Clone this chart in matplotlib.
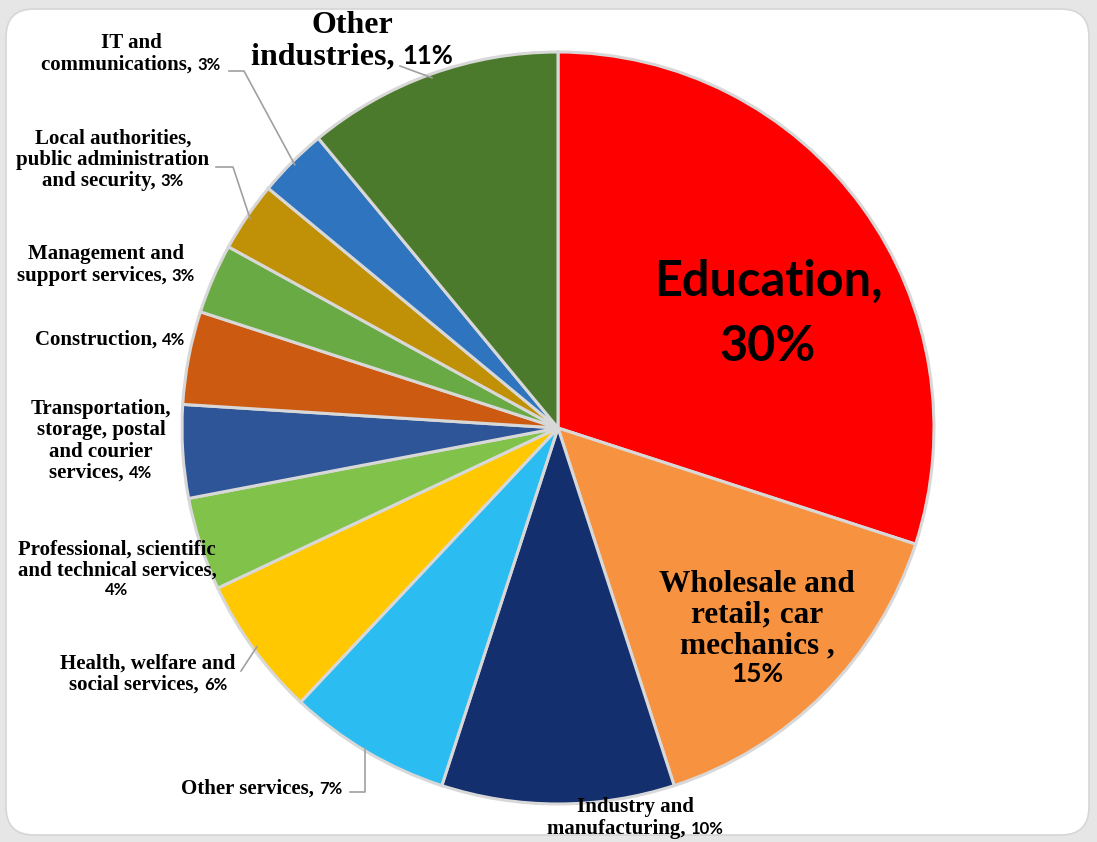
import matplotlib
matplotlib.use('Agg')
import matplotlib.pyplot as plt
import numpy as np
from matplotlib.offsetbox import TextArea, HPacker, VPacker, AnnotationBbox
from matplotlib.patches import FancyBboxPatch

# data
sectors = ['Education', 'Wholesale and retail; car mechanics', 'Industry and manufacturing',
           'Other services', 'Health, welfare and social services',
           'Professional, scientific and technical services',
           'Transportation, storage, postal and courier services', 'Construction',
           'Management and support services', 'Local authorities, public administration and security',
           'IT and communications', 'Other industries']
shares = [30, 15, 10, 7, 6, 4, 4, 4, 3, 3, 3, 11]
colors = ['#FF0000', '#F79240', '#142F6E', '#2BBDF2', '#FFC800', '#80C24A',
          '#2D5597', '#CC5A10', '#6AAA45', '#C09006', '#2F74BE', '#4B7A2C']

# how each label is broken into lines (the percentage is appended)
name_lines = [['Education,'], ['Wholesale and', 'retail; car', 'mechanics ,'],
              ['Industry and', 'manufacturing, '], ['Other services, '],
              ['Health, welfare and', 'social services, '],
              ['Professional, scientific', 'and technical services,'],
              ['Transportation,', 'storage, postal', 'and courier', 'services, '],
              ['Construction, '], ['Management and', 'support services, '],
              ['Local authorities,', 'public administration', 'and security, '],
              ['IT and', 'communications, '], ['Other', 'industries, ']]
pct_own_line = [True, True, False, False, False, True, False, False, False, False, False, False]

H = 842
# label centres in picture pixels (x, y from top) and font sizes (name, percent)
label_pos = [(768, 314), (757, 628), (635, 818), (262, 789), (148, 674), (117, 569),
             (101, 441), (110, 340), (106, 265), (113, 160), (131, 54), (352, 41)]
label_size = [(35, 35), (22.5, 19), (15, 12), (15, 12), (15, 12), (15, 12),
              (15, 12), (15, 12), (15, 12), (15, 12), (15, 12), (23, 18.5)]

fig = plt.figure(figsize=(10.97, 8.42), dpi=100)
fig.patch.set_facecolor('#E6E6E6')
ax = fig.add_axes([0, 0, 1, 1])

cx, cy, r = 558, H - 428, 376
wedges, _ = ax.pie(shares, colors=colors, startangle=90, counterclock=False,
                   center=(cx, cy), radius=r,
                   wedgeprops=dict(edgecolor='#D8D8D8', linewidth=2.2))

panel = FancyBboxPatch((6, 7), 1083, 826, boxstyle='round,pad=0,rounding_size=28',
                       fc='white', ec='#D6D6D6', lw=1.2, zorder=0)
ax.add_patch(panel)

ax.set_xlim(0, 1097)
ax.set_ylim(0, H)
ax.set_aspect('equal')
ax.axis('off')


def part(text, size, family):
    return TextArea(text, textprops=dict(fontsize=size, fontweight='bold',
                                         fontfamily=family, color='black'))


for i, lines in enumerate(name_lines):
    ns, ps = label_size[i]
    name_font = 'Lato' if i == 0 else 'Liberation Serif'
    pct = '%d%%' % shares[i]
    rows = []
    for j, ln in enumerate(lines):
        kids = [part(ln, ns, name_font)]
        if j == len(lines) - 1 and not pct_own_line[i]:
            kids.append(part(pct, ps, 'Lato'))
        rows.append(HPacker(children=kids, align='baseline', pad=0, sep=0))
    if pct_own_line[i]:
        rows.append(HPacker(children=[part(pct, ps, 'Lato')], align='baseline', pad=0, sep=0))
    if i == 0:
        sep = 15
    elif i == 11:
        sep = 2
    else:
        sep = 1
    box = VPacker(children=rows, align='center', pad=0, sep=sep)
    x, y = label_pos[i]
    ab = AnnotationBbox(box, (x, H - y), xycoords='data', frameon=False,
                        box_alignment=(0.5, 0.5), pad=0, zorder=5)
    ax.add_artist(ab)


def edge_point(k, f=1.0):
    w = wedges[k]
    a = np.deg2rad((w.theta1 + w.theta2) / 2)
    return cx + f * r * np.cos(a), cy + f * r * np.sin(a)


# leader lines: label side points, then the slice edge
leaders = {10: [(229, 71), (244, 71)], 9: [(216, 167), (233, 167)],
           4: [(241, 671)], 3: [(350, 792), (365, 792)], 11: [(400, 66)]}
for k, pts in leaders.items():
    xs = [p[0] for p in pts]
    ys = [H - p[1] for p in pts]
    ex, ey = edge_point(k, 0.99)
    if k == 3:
        xs.append(xs[-1])
        ys.append(ey)
    else:
        xs.append(ex)
        ys.append(ey)
    ax.plot(xs, ys, color='#A0A0A0', lw=1.2, zorder=4)

fig.savefig('out.png', dpi=100, facecolor=fig.get_facecolor())
